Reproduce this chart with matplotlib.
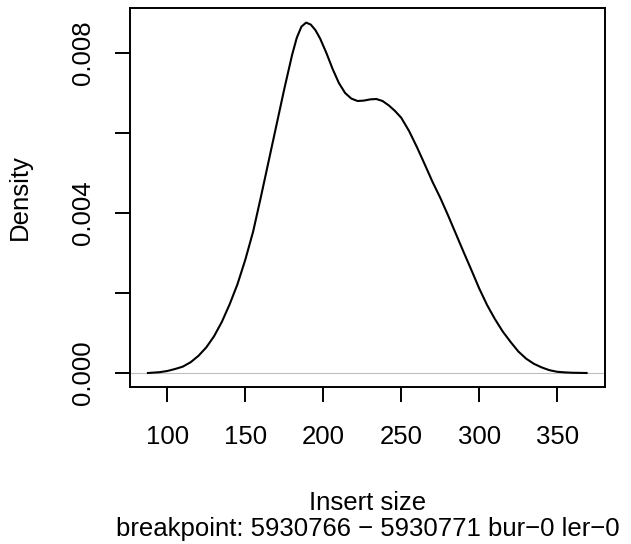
import matplotlib
matplotlib.use("Agg")
import matplotlib.pyplot as plt

plt.rcParams["font.family"] = ["Liberation Sans", "DejaVu Sans"]

# density curve (insert size vs density)
insert_size = [87.6, 95, 100, 105, 110, 115, 120, 125, 130, 135,
               140, 145, 150, 155, 160, 165, 170, 175, 180, 183,
               186, 189, 192, 195, 198, 202, 206, 210, 214, 218,
               222, 226, 230, 234, 238, 242, 246, 250, 255, 260,
               265, 270, 275, 280, 285, 290, 295, 300, 305, 310,
               315, 320, 325, 330, 335, 340, 345, 350, 355, 360, 368.8]
density = [0.0, 0.00002, 0.00005, 0.0001, 0.00016, 0.00027, 0.00043, 0.00064, 0.00092, 0.00128,
           0.00172, 0.00222, 0.00283, 0.00353, 0.0044, 0.0053, 0.0062, 0.0071, 0.00795, 0.00838,
           0.00866, 0.00876, 0.00871, 0.00857, 0.00836, 0.008, 0.0076, 0.00725, 0.007, 0.00686,
           0.0068, 0.00681, 0.00684, 0.00685, 0.0068, 0.00669, 0.00655, 0.00638, 0.00605, 0.00565,
           0.00522, 0.00478, 0.00438, 0.00394, 0.00348, 0.00302, 0.00257, 0.00211, 0.0017, 0.00135,
           0.00104, 0.00078, 0.00054, 0.00036, 0.00023, 0.00014, 0.00007, 0.00003, 0.000015, 0.000006, 0.0]

x_ticks = [100, 150, 200, 250, 300, 350]
y_ticks = [0.000, 0.002, 0.004, 0.006, 0.008]
y_labels = ["0.000", "", "0.004", "", "0.008"]

W, H = 631, 544
fig = plt.figure(figsize=(W / 100, H / 100), dpi=100)
ax = fig.add_axes([130 / W, 1 - 387 / H, 475 / W, 379 / H])

ax.axhline(0, color="#BEBEBE", lw=0.8, zorder=1)
ax.plot(insert_size, density, color="black", lw=1.5, zorder=2)

ax.set_xlim(76.1, 380.6)
ax.set_ylim(-0.00035, 0.009125)
ax.set_xticks(x_ticks)
ax.set_xticklabels([str(t) for t in x_ticks])
ax.set_yticks(y_ticks)
ax.set_yticklabels(y_labels)

for s in ax.spines.values():
    s.set_linewidth(1.4)
ax.tick_params(axis="both", length=11, width=1.4, labelsize=18.5, direction="out")
ax.tick_params(axis="x", pad=16)
ax.tick_params(axis="y", pad=14, labelrotation=90)
for lbl in ax.get_yticklabels():
    lbl.set_va("center")

fig.text(20 / W, 1 - 197 / H, "Density", rotation=90, ha="center", va="center", fontsize=18.5)
fig.text(367.5 / W, 1 - 510 / H, "Insert size", ha="center", va="baseline", fontsize=18.5)
fig.text(367.5 / W, 1 - 536 / H, "breakpoint: 5930766 \u2212 5930771 bur\u22120 ler\u22120",
         ha="center", va="baseline", fontsize=18.5)

fig.savefig("out.png", dpi=100)
